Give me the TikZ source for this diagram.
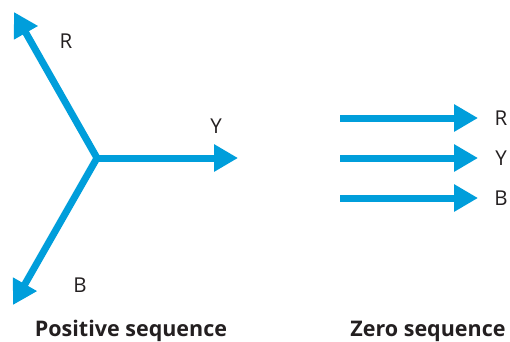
\documentclass[tikz,border=0pt]{standalone}
\usepackage{fontspec}
\setmainfont{Open Sans}
\usetikzlibrary{arrows.meta}
\definecolor{phblue}{RGB}{0,158,219}
\definecolor{txt}{RGB}{35,31,32}
\begin{document}
\begin{tikzpicture}[x=1pt,y=-1pt,
  vec/.style={draw=phblue,line width=7pt,-{Triangle[length=24pt,width=26pt]},color=phblue},
  lbl/.style={text=txt,font=\fontsize{20.5}{22}\selectfont,inner sep=0pt},
  ttl/.style={text=txt,font=\fontsize{21.5}{24}\selectfont\bfseries,inner sep=0pt,anchor=base}]
\useasboundingbox (0,0) rectangle (510,341);
% positive sequence
\coordinate (o) at (97,158);
\coordinate (r) at (14,12);
\coordinate (y) at (238,158);
\coordinate (b) at (13,305);
\draw[vec] (o) -- (r);
\draw[vec] (o) -- (y);
\draw[vec] (o) -- (b);
\node[lbl] (lr) at (66,41) {R};
\node[lbl] (ly) at (216,126) {Y};
\node[lbl] (lb) at (80,285) {B};
\node[ttl] (t1) at (131,336.5) {Positive sequence};
% zero sequence
\coordinate (zr0) at (340,118);
\coordinate (zr1) at (478,118);
\coordinate (zy0) at (340,158);
\coordinate (zy1) at (478,158);
\coordinate (zb0) at (340,198);
\coordinate (zb1) at (478,198);
\draw[vec] (zr0) -- (zr1);
\draw[vec] (zy0) -- (zy1);
\draw[vec] (zb0) -- (zb1);
\node[lbl] (zlr) at (501,118) {R};
\node[lbl] (zly) at (501,158) {Y};
\node[lbl] (zlb) at (501,198) {B};
\node[ttl] (t2) at (428,336.5) {Zero sequence};
\end{tikzpicture}
\end{document}
